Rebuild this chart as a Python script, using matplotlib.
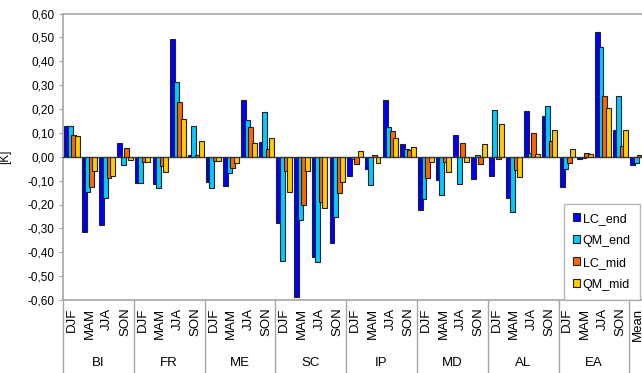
import numpy as np
import matplotlib.pyplot as plt
from matplotlib.ticker import FuncFormatter, MultipleLocator

plt.rcParams['font.family'] = ['Liberation Sans', 'DejaVu Sans']

regions = ["BI", "FR", "ME", "SC", "IP", "MD", "AL", "EA"]
seasons = ["DJF", "MAM", "JJA", "SON"]

# temperature differences per region/season, last value is the overall mean
lc_end = [0.128, -0.317, -0.286, 0.059, -0.112, -0.116, 0.492, 0.007,
          -0.105, -0.121, 0.237, 0.063, -0.276, -0.586, -0.421, -0.360,
          -0.081, -0.052, 0.237, 0.052, -0.223, -0.098, 0.093, -0.093,
          -0.081, -0.172, 0.191, 0.170, -0.126, -0.008, 0.524, 0.112, -0.035]
qm_end = [0.128, -0.146, -0.173, -0.035, -0.112, -0.130, 0.314, 0.128,
          -0.132, -0.070, 0.156, 0.188, -0.437, -0.265, -0.441, -0.251,
          -0.011, -0.119, 0.126, 0.031, -0.179, -0.162, -0.116, 0.006,
          0.195, -0.233, 0.017, 0.212, -0.050, -0.006, 0.459, 0.254, -0.025]
lc_mid = [0.093, -0.128, -0.091, 0.035, -0.021, -0.038, 0.230, 0.007,
          -0.017, -0.046, 0.124, 0.031, -0.060, -0.202, -0.191, -0.151,
          -0.031, 0.006, 0.109, 0.028, -0.091, -0.021, 0.056, -0.031,
          -0.008, -0.056, 0.098, 0.066, -0.028, 0.014, 0.254, 0.047, 0.006]
qm_mid = [0.086, -0.059, -0.081, -0.014, -0.021, -0.063, 0.158, 0.066,
          -0.017, -0.028, 0.059, 0.077, -0.148, -0.059, -0.215, -0.105,
          0.024, -0.028, 0.080, 0.040, -0.024, -0.063, -0.021, 0.053,
          0.139, -0.084, 0.011, 0.110, 0.032, 0.013, 0.204, 0.114, 0.007]

series = [("LC_end", lc_end, "#0000ff"),
          ("QM_end", qm_end, "#00ccff"),
          ("LC_mid", lc_mid, "#ff6600"),
          ("QM_mid", qm_mid, "#ffcc00")]

labels = seasons * len(regions) + ["Mean"]
n = len(labels)
x = np.arange(n)
grey = "#a6a6a6"

W, H = 642, 373
fig = plt.figure(figsize=(W / 100, H / 100), dpi=100)
# plot area runs a little past the right edge, so the last group is cut off
left, right, top, bottom = 63, 647, 13.5, 300
ax = fig.add_axes([left / W, 1 - bottom / H, (right - left) / W, (bottom - top) / H])

width = 0.28
for i, (name, vals, col) in enumerate(series):
    ax.bar(x + (i - 1.5) * 0.2, vals, width=width, color=col,
           edgecolor="#222222", linewidth=0.8, label=name, zorder=2)

ax.axhline(0, color="#333333", lw=0.9, zorder=3)
ax.set_xlim(-0.5, n - 0.5)
ax.set_ylim(-0.6, 0.6)
ax.yaxis.set_major_locator(MultipleLocator(0.1))
ax.yaxis.set_major_formatter(FuncFormatter(lambda v, p: f"{v:.2f}".replace(".", ",").replace("-0,00", "0,00")))
ax.tick_params(axis="y", length=3, color=grey, labelsize=8.5, pad=3)
ax.set_xticks([])
ax.spines["right"].set_visible(False)
for s in ["left", "bottom", "top"]:
    ax.spines[s].set_color(grey)
    ax.spines[s].set_linewidth(1.2)
ax.set_ylabel("[K]", fontsize=8.5, labelpad=12)

# category labels below the plot
tr = ax.get_xaxis_transform()
for xi, lab in zip(x, labels):
    ax.text(xi, -0.026, lab, transform=tr, rotation=90, ha="center", va="top",
            fontsize=9.5, clip_on=False)
for k, reg in enumerate(regions):
    ax.text(k * 4 + 1.5, -0.22, reg, transform=tr, ha="center", va="center",
            fontsize=9.5, clip_on=False)
for b in range(len(regions) + 1):
    ax.plot([b * 4 - 0.5] * 2, [0, -0.3], transform=tr, color=grey, lw=1.0,
            clip_on=False)

leg = ax.legend(loc="upper left", bbox_to_anchor=((564 - left) / (right - left), 1 - (204 - top) / (bottom - top)),
                prop={"family": ["Liberation Sans Narrow", "Liberation Sans"], "size": 9},
                frameon=True, fancybox=False, handlelength=0.6,
                handleheight=0.6, handletextpad=0.2, labelspacing=0.8,
                borderpad=0.7, borderaxespad=0)
leg.get_frame().set_edgecolor(grey)
leg.get_frame().set_linewidth(1.0)

fig.savefig("out.png", dpi=100)
